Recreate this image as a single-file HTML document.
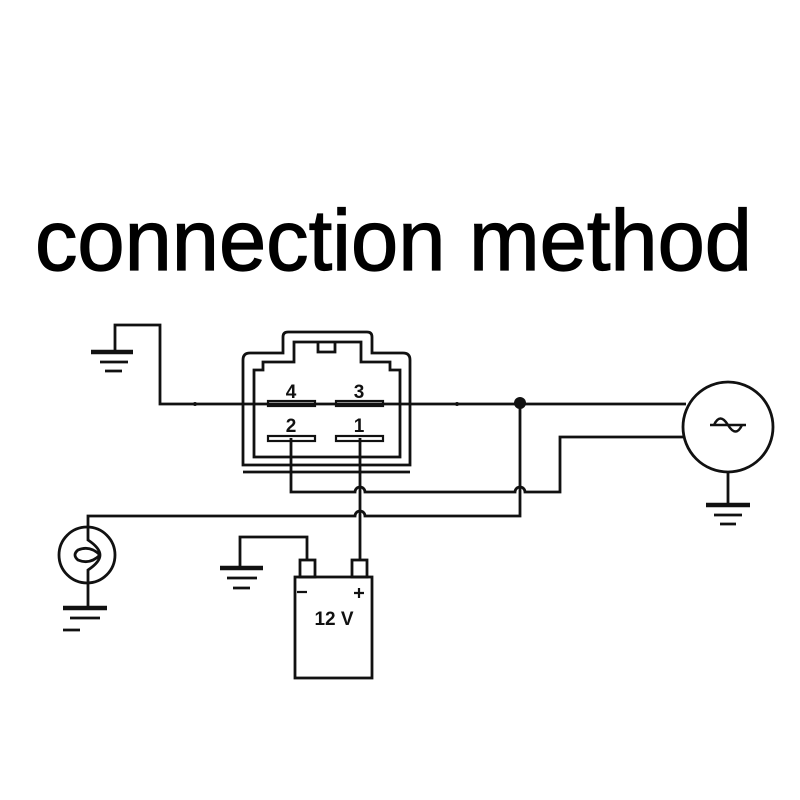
<!DOCTYPE html>
<html><head><meta charset="utf-8"><style>html,body{margin:0;padding:0;background:#fff}svg{display:block}</style></head>
<body>
<svg width="800" height="800" viewBox="0 0 800 800" xmlns="http://www.w3.org/2000/svg">
<text x="35" y="270" font-family="Liberation Sans, sans-serif" font-size="86" textLength="717" lengthAdjust="spacingAndGlyphs" fill="#000" stroke="#000" stroke-width="1.2">connection method</text>
<g fill="none" stroke="#111" stroke-width="2.8">
<path d="M115 352 V325 H160 V404 H686"/>
<path d="M91 352 H133" stroke-width="4.5"/>
<path d="M100 362 H128 M105 371 H122"/>
<path d="M243 465 V360 Q243 353 250 353 H283 V337 Q283 332 288 332 H367 Q372 332 372 337 V353 H403 Q410 353 410 360 V465 Z"/>
<path d="M243 472 H410" />
<path d="M254 457 V370 H263 V362 H294 V342 H361 V362 H390 V370 H400 V457 Z"/>
<path d="M318 342 V352 H335 V342"/>
<rect x="268" y="401" width="47" height="5" stroke-width="2.2"/>
<rect x="336" y="401" width="47" height="5" stroke-width="2.2"/>
<rect x="268" y="436" width="47" height="5" stroke-width="2.2"/>
<rect x="336" y="436" width="47" height="5" stroke-width="2.2"/>
<path d="M291 438 V492 H355 A5 5 0 0 1 365 492 H515 A5 5 0 0 1 525 492 H560 V437 H683"/>
<path d="M360 438 V560"/>
<path d="M88 527 V516 H355 A5 5 0 0 1 365 516 H520 V403"/>
<circle cx="728" cy="427" r="45"/>
<path d="M728 472 V505"/>
<path d="M706 505 H750" stroke-width="4.5"/>
<path d="M714 515 H742 M720 524 H736"/>
<path d="M710 425 H746 M714 425 Q720 412 728 425 Q736 438 742 425" stroke-width="2.5"/>
<circle cx="87" cy="555" r="28"/>
<path d="M88 527 V540 Q100 548 100 555 Q100 562 88 570 V608"/>
<path d="M100 555 Q90 545 78 550 Q72 555 78 560 Q90 565 100 555"/>
<path d="M63 608 H107" stroke-width="4.5"/>
<path d="M70 618 H100 M63 630 H80"/>
<path d="M240 568 V537 H307 V560"/>
<path d="M220 568 H263" stroke-width="4.5"/>
<path d="M227 578 H257 M233 588 H250"/>
<rect x="295" y="577" width="77" height="101"/>
<rect x="300" y="560" width="15" height="17"/>
<rect x="352" y="560" width="15" height="17"/>
<path d="M297 592 H307 M354 593 H364 M359 588 V598" stroke-width="2.2"/>
</g>
<circle cx="520" cy="403" r="6" fill="#111"/>
<circle cx="457" cy="404" r="2" fill="#111"/>
<circle cx="195" cy="404" r="2" fill="#111"/>
<g font-family="Liberation Sans, sans-serif" font-size="19" font-weight="bold" fill="#111" text-anchor="middle">
<text x="291" y="398">4</text><text x="359" y="398">3</text>
<text x="291" y="432">2</text><text x="359" y="432">1</text>
<text x="334" y="625" font-size="19">12  V</text>
</g>
</svg>
</body></html>
